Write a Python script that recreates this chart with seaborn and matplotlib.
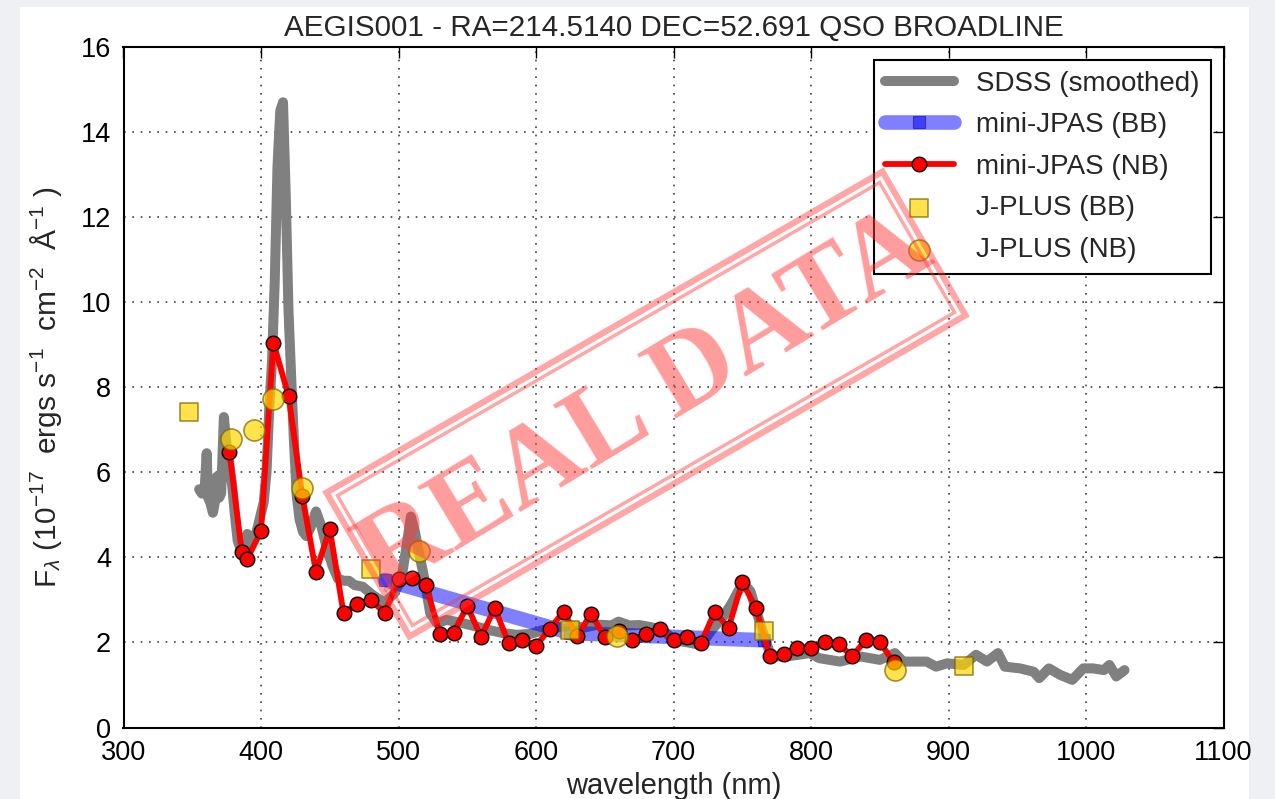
import matplotlib
matplotlib.use("Agg")
import matplotlib.pyplot as plt
import seaborn as sns
from matplotlib.patches import Rectangle
from matplotlib.transforms import Affine2D

# SDSS spectrum (smoothed), wavelength in nm and flux in 1e-17 erg/s/cm2/A
sdss_wave = [355, 357, 359, 360.5, 361.5, 363, 365, 366.5, 368, 369.5, 371, 373, 375, 377,
             379, 381, 383, 385, 387, 390, 393, 396, 399, 402, 404, 406, 408, 410, 412, 414,
             416, 418, 420, 422, 424, 426, 428, 430.5, 433, 436, 440, 444, 448, 452, 456,
             460, 464, 468, 474, 481, 490, 497, 502, 506, 509, 512, 514, 519, 523, 528, 535,
             547, 557, 566, 576, 586, 596, 605, 615, 625, 635, 645, 655, 660, 668, 675, 685,
             692, 700, 712, 720, 728, 736, 742, 747, 751, 756, 760, 766, 771, 782, 791, 799,
             806, 821, 836, 850, 861, 867, 874, 884, 891, 899, 911, 920, 928, 936, 941, 952,
             962, 966, 973, 981, 990, 998, 1005, 1013, 1017, 1022, 1028]
sdss_flux = [5.6, 5.5, 5.6, 6.45, 5.4, 5.3, 5.05, 5.3, 5.9, 5.4, 5.5, 7.3, 6.6, 6.2,
             5.7, 5.0, 4.4, 4.2, 4.3, 4.55, 4.3, 4.5, 4.9, 5.3, 6.0, 7.5, 8.6, 10.5, 13.2, 14.5,
             14.7, 12.5, 9.8, 8.2, 6.7, 5.45, 4.9, 4.6, 4.5, 4.7, 5.08, 4.72, 4.2, 3.8, 3.5,
             3.45, 3.45, 3.35, 3.31, 3.12, 2.93, 3.16, 3.47, 4.3, 4.96, 4.6, 4.25, 3.47, 2.69, 2.45, 2.53,
             2.45, 2.37, 2.29, 2.22, 2.18, 2.2, 2.29, 2.35, 2.4, 2.35, 2.42, 2.4, 2.49, 2.4, 2.41, 2.35,
             2.3, 2.06, 1.99, 1.94, 2.3, 2.6, 2.9, 3.2, 3.39, 3.2, 2.76, 2.14, 1.67, 1.67, 1.71, 1.75,
             1.63, 1.55, 1.67, 1.59, 1.75, 1.55, 1.55, 1.55, 1.43, 1.51, 1.47, 1.71, 1.55, 1.75, 1.43, 1.39,
             1.31, 1.16, 1.39, 1.24, 1.12, 1.39, 1.39, 1.35, 1.47, 1.2, 1.35]

# mini-JPAS broad bands
mjpas_bb_wave = [490, 625, 766]
mjpas_bb_flux = [3.47, 2.22, 2.05]

# mini-JPAS narrow bands
mjpas_nb_wave = [377, 386, 390, 400, 409, 420, 430, 440, 450, 460, 470, 480, 490, 500, 510,
                 520, 530, 540, 550, 560, 570, 580, 590, 600, 610, 620, 630, 640, 650, 660,
                 670, 680, 690, 700, 710, 720, 730, 740, 750, 760, 770, 780, 790, 800, 810,
                 820, 830, 840, 850, 860]
mjpas_nb_flux = [6.48, 4.13, 3.96, 4.62, 9.05, 7.80, 5.45, 3.66, 4.67, 2.69, 2.91, 3.00, 2.69,
                 3.49, 3.52, 3.35, 2.20, 2.22, 2.86, 2.13, 2.81, 1.99, 2.06, 1.92, 2.32, 2.72,
                 2.15, 2.67, 2.13, 2.27, 2.06, 2.20, 2.32, 2.06, 2.13, 1.99, 2.72, 2.34, 3.42,
                 2.81, 1.68, 1.73, 1.87, 1.87, 2.01, 1.96, 1.68, 2.06, 2.01, 1.54]

# J-PLUS broad and narrow bands
jplus_bb_wave = [348, 480, 625, 766, 911]
jplus_bb_flux = [7.42, 3.73, 2.29, 2.27, 1.45]
jplus_nb_wave = [378, 395, 409, 430, 515, 659, 861]
jplus_nb_flux = [6.79, 7.00, 7.72, 5.63, 4.14, 2.15, 1.35]

series_labels = ["SDSS (smoothed)", "mini-JPAS (BB)", "mini-JPAS (NB)", "J-PLUS (BB)", "J-PLUS (NB)"]
title_text = "AEGIS001 - RA=214.5140 DEC=52.691 QSO BROADLINE"
xticks = [300, 400, 500, 600, 700, 800, 900, 1000, 1100]
yticks = [0, 2, 4, 6, 8, 10, 12, 14, 16]

sns.set_theme(style="white")
plt.rcParams["font.family"] = ["Liberation Sans", "DejaVu Sans"]
plt.rcParams["mathtext.fontset"] = "custom"
plt.rcParams["mathtext.rm"] = "Liberation Sans"
plt.rcParams["mathtext.it"] = "Liberation Sans:italic"

W, H = 1275, 799
fig = plt.figure(figsize=(W / 100, H / 100), dpi=100)
fig.patch.set_facecolor("#eef0f4")
fig.patches.append(Rectangle((20 / W, 0), (1249 - 20) / W, (H - 7) / H,
                             transform=fig.transFigure, facecolor="white",
                             edgecolor="none", zorder=-10))

ax = fig.add_axes([123.5 / W, (H - 727.5) / H, 1100 / W, 680.5 / H])
ax.set_facecolor("white")

sns.lineplot(x=sdss_wave, y=sdss_flux, ax=ax, color="gray", lw=7.2, sort=False,
             estimator=None, label=series_labels[0], zorder=2)
sns.lineplot(x=mjpas_bb_wave, y=mjpas_bb_flux, ax=ax, color="blue", alpha=0.5, lw=10.5,
             marker="s", ms=8, mec="navy", sort=False, estimator=None,
             label=series_labels[1], zorder=3)
sns.lineplot(x=mjpas_nb_wave, y=mjpas_nb_flux, ax=ax, color="red", lw=4.2,
             marker="o", ms=10.5, mec="black", mew=1, sort=False, estimator=None,
             label=series_labels[2], zorder=4)
sns.scatterplot(x=jplus_bb_wave, y=jplus_bb_flux, ax=ax, marker="s", s=175,
                color="gold", edgecolor="#7a6400", linewidth=1.2, alpha=0.7,
                label=series_labels[3], zorder=5)
sns.scatterplot(x=jplus_nb_wave, y=jplus_nb_flux, ax=ax, marker="o", s=230,
                color="gold", edgecolor="#7a6400", linewidth=1.2, alpha=0.7,
                label=series_labels[4], zorder=5)

ax.set_xlim(300, 1100)
ax.set_ylim(0, 16)
ax.set_xticks(xticks)
ax.set_yticks(yticks)
ax.grid(True, color="0.25", linestyle=(0, (1, 4)), lw=1.2)
ax.tick_params(direction="in", top=True, right=True, length=8, width=1,
               labelsize=19.5, pad=9, colors="black")
for sp in ax.spines.values():
    sp.set_color("black")
    sp.set_linewidth(1.5)

ax.set_title(title_text, fontsize=21.3, pad=8)
ax.set_xlabel("wavelength (nm)", fontsize=21, labelpad=4)
ax.set_ylabel(r"F$_\lambda$ (10$^{-17}$  ergs s$^{-1}$  cm$^{-2}$  Å$^{-1}$ )",
              fontsize=21.5, labelpad=12)

handles, labels = ax.get_legend_handles_labels()
order = [labels.index(l) for l in series_labels]
leg = ax.legend([handles[i] for i in order], [labels[i] for i in order],
                loc="upper right", fontsize=20, frameon=True, fancybox=False,
                framealpha=1, edgecolor="black", handlelength=2.5,
                labelspacing=0.56, borderaxespad=0.45, numpoints=1, scatterpoints=1)
leg.get_frame().set_linewidth(1.5)

# "REAL DATA" stamp drawn over the plot
cx, cy, ang = 646, H - 404, 31
stamp_color = "#ff3b3b"
fig.text(cx / W, cy / H, "REAL DATA", rotation=ang, rotation_mode="anchor",
         ha="center", va="center", fontsize=82, fontweight="bold",
         family=["DejaVu Serif Condensed", "Liberation Serif"], color=stamp_color,
         alpha=0.5, zorder=10)
rot = Affine2D().rotate_deg_around(cx, cy, 30)
for w, h, lw in [(642, 166, 4.5), (626, 150, 2.5)]:
    fig.patches.append(Rectangle((cx - w / 2, cy - h / 2), w, h, transform=rot,
                                 facecolor="none", edgecolor=stamp_color,
                                 lw=lw, alpha=0.45, zorder=10))

fig.savefig("out.png", dpi=100, facecolor=fig.get_facecolor())
